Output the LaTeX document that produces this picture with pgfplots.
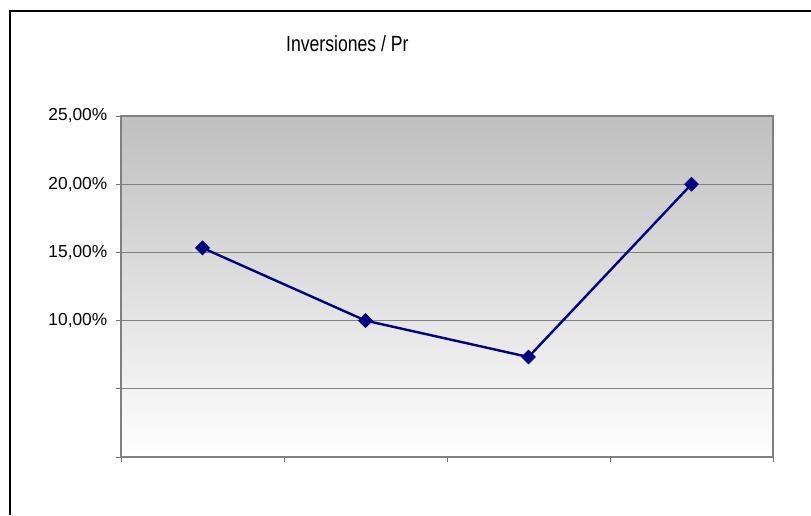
\documentclass[border=0pt]{standalone}
\usepackage{fontspec}
\setmainfont{Liberation Sans}
\usepackage{pgfplots}
\pgfplotsset{compat=1.18}
\begin{document}
\begin{tikzpicture}
\useasboundingbox (0pt,0pt) rectangle (608.25pt,386.25pt);
% outer frame (extends beyond the picture to the right and bottom)
\draw[black,line width=1.2pt] (7.5pt,0pt) -- (7.5pt,378pt) -- (608.25pt,378pt);
% truncated title
\node[anchor=west,inner sep=0pt,font=\fontsize{16.5pt}{19pt}\selectfont,xscale=0.8] at (214.5pt,353.25pt) {Inversiones / Pr};
\begin{axis}[
  at={(90.75pt,43.5pt)}, anchor=south west,
  scale only axis, width=489pt, height=255.75pt,
  xmin=0.5, xmax=4.5, ymin=0, ymax=25,
  xtick={0.5,1.5,2.5,3.5,4.5}, xticklabels={},
  ytick={0,5,10,15,20,25},
  yticklabels={{},{},{10,00\%},{15,00\%},{20,00\%},{25,00\%}},
  xtick pos=bottom, ytick pos=left,
  tick align=outside, major tick length=3.75pt,
  tick style={gray!90!black, line width=0.6pt},
  ymajorgrids, grid style={gray, line width=0.6pt},
  axis line style={gray, line width=0.8pt},
  axis background/.style={top color=black!25, bottom color=white},
  yticklabel style={font=\fontsize{13pt}{15pt}\selectfont, xshift=-3pt},
  /pgf/number format/assume math mode=true,
]
\addplot[color={rgb,255:red,0;green,0;blue,128}, line width=1.8pt, mark=square*, mark size=3.7pt,
  mark options={solid, rotate=45, line width=0.5pt, fill={rgb,255:red,0;green,0;blue,128}}]
  coordinates {(1,15.33) (2,10.0) (3,7.33) (4,20.0)};
\end{axis}
\end{tikzpicture}
\end{document}
